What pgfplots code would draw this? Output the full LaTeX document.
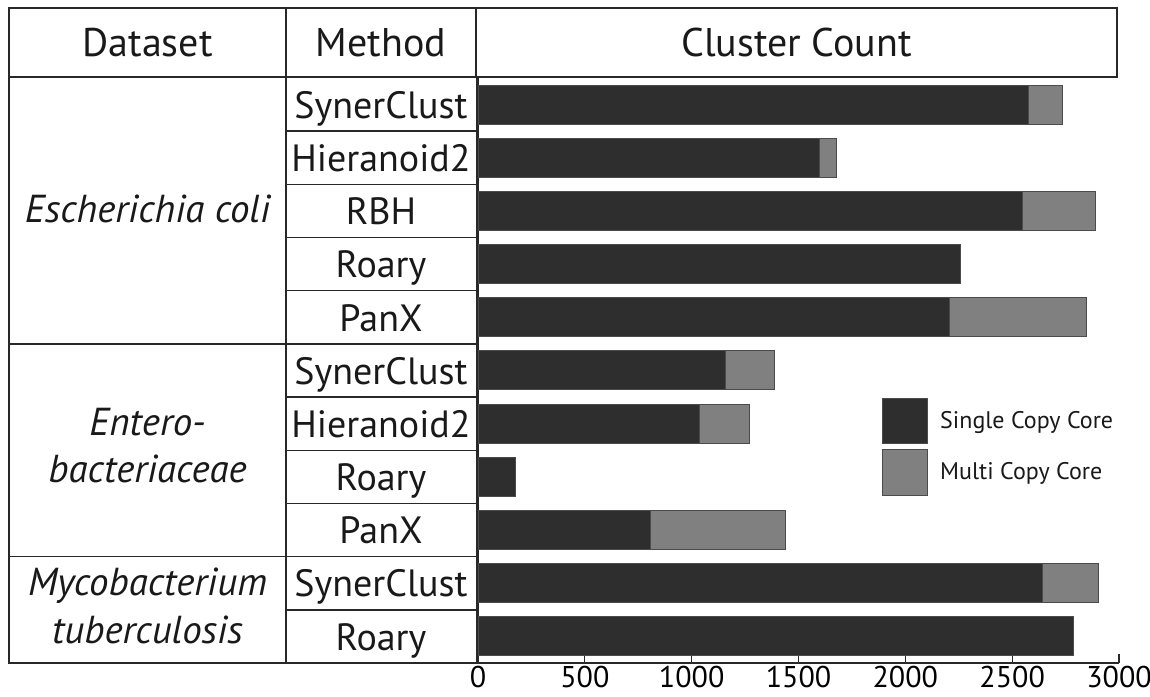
\documentclass[border=0pt]{standalone}
\usepackage{fontspec}
\setmainfont{PT Sans}
\usepackage{pgfplots}
\pgfplotsset{compat=1.18}
\definecolor{dark}{RGB}{46,46,46}
\definecolor{light}{RGB}{128,128,128}
\definecolor{edge}{RGB}{75,75,75}
\definecolor{tbl}{RGB}{40,40,40}

\begin{document}
\begin{tikzpicture}[x=1pt,y=1pt]
\path[use as bounding box] (0,0) rectangle (1150,696);
\begin{axis}[
  at={(478pt,33pt)}, anchor=south west,
  scale only axis, width=641pt, height=585pt,
  xmin=0, xmax=3000, ymin=-0.5, ymax=10.5,
  axis lines=left,
  axis line style={-, line width=1.5pt, color=tbl},
  xtick={0,500,1000,1500,2000,2500,3000}, ytick=\empty,
  xtick align=inside, major tick length=9pt,
  tick style={line width=1.2pt, color=tbl},
  xticklabel style={font=\fontsize{30}{30}\selectfont},
  /pgf/number format/assume math mode=true,
  /pgf/number format/1000 sep={},
  scaled x ticks=false,
  xbar, bar width=39pt, bar shift=0pt,
  clip=false,
]
% totals (single + multi copy core)
\addplot[fill=light, draw=edge, line width=1pt] coordinates {
  (2735,10) (1680,9) (2890,8) (2848,6)
  (1386,5) (1272,4) (1439,2) (2903,1)
};
% single copy core
\addplot[fill=dark, draw=edge, line width=1pt] coordinates {
  (2578,10) (1597,9) (2547,8) (2259,7) (2208,6)
  (1156,5) (1038,4) (174,3) (808,2) (2641,1) (2788,0)
};
\end{axis}

% table
\begin{scope}[line width=1.5pt, draw=tbl]
\draw (9,688) rectangle (1117,619);
\draw (286,688) -- (286,619);
\draw (476,688) -- (476,619);
\draw (9,619) -- (9,33) -- (478,33);
\draw (286,619) -- (286,33);
\draw (477,619) -- (477,33);
\draw (9,352.1) -- (477,352.1);
\draw (9,139.4) -- (477,139.4);
\foreach \k in {1,...,10} {
  \draw (286,{618-53.18*\k}) -- (477,{618-53.18*\k});
}
\end{scope}

% header texts
\begin{scope}[every node/.style={font=\fontsize{40}{44}\selectfont, anchor=base, inner sep=0pt, text=black!90}]
\node at (147.5,639) {Dataset};
\node at (381,639) {Method};
\node at (796.5,639) {Cluster Count};
\end{scope}

% method labels
\begin{scope}[every node/.style={font=\fontsize{38}{40}\selectfont, anchor=base, inner sep=0pt, text=black!90}]
\node at (381,{577.7-53.18*0}) {SynerClust};
\node at (381,{577.7-53.18*1}) {Hieranoid2};
\node at (381,{577.7-53.18*2}) {RBH};
\node at (381,{577.7-53.18*3}) {Roary};
\node at (381,{577.7-53.18*4}) {PanX};
\node at (381,{577.7-53.18*5}) {SynerClust};
\node at (381,{577.7-53.18*6}) {Hieranoid2};
\node at (381,{577.7-53.18*7}) {Roary};
\node at (381,{577.7-53.18*8}) {PanX};
\node at (381,{577.7-53.18*9}) {SynerClust};
\node at (381,{577.7-53.18*10}) {Roary};
\end{scope}

% dataset labels
\begin{scope}[every node/.style={font=\fontsize{39}{42}\selectfont\itshape, anchor=base, inner sep=0pt, text=black!90}]
\node at (147.5,473) {Escherichia coli};
\node at (147.5,260) {Entero-};
\node at (147.5,213) {bacteriaceae};
\node at (147.5,101) {Mycobacterium};
\node at (147.5,53) {tuberculosis};
\end{scope}

% legend
\fill[dark, draw=edge, line width=0.8pt] (882,298) rectangle (927,253);
\fill[light, draw=edge, line width=0.8pt] (882,247) rectangle (927,201);
\node[font=\fontsize{24}{26}\selectfont, anchor=base west, inner sep=0pt, text=black!90] at (940,267) {Single Copy Core};
\node[font=\fontsize{24}{26}\selectfont, anchor=base west, inner sep=0pt, text=black!90] at (940,216) {Multi Copy Core};
\end{tikzpicture}
\end{document}
